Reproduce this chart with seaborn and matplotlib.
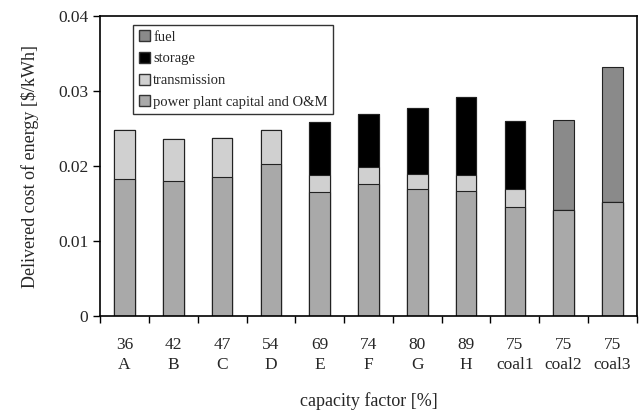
import matplotlib
matplotlib.use("Agg")
import matplotlib.pyplot as plt
import seaborn as sns
import pandas as pd
import numpy as np
from matplotlib.patches import Patch
from matplotlib.ticker import FixedLocator

sns.set_style("ticks")
plt.rcParams['font.family'] = ['Liberation Serif', 'DejaVu Serif']

categories = ["A", "B", "C", "D", "E", "F", "G", "H", "coal1", "coal2", "coal3"]
capacity = ["36", "42", "47", "54", "69", "74", "80", "89", "75", "75", "75"]
plant = [0.0183, 0.0180, 0.0185, 0.0203, 0.0165, 0.0176, 0.0169, 0.0167, 0.0146, 0.0141, 0.0152]
transmission = [0.0065, 0.0056, 0.0052, 0.0045, 0.0023, 0.0023, 0.0021, 0.0021, 0.0024, 0.0, 0.0]
storage = [0.0, 0.0, 0.0, 0.0, 0.0071, 0.0070, 0.0088, 0.0104, 0.0090, 0.0, 0.0]
fuel = [0.0, 0.0, 0.0, 0.0, 0.0, 0.0, 0.0, 0.0, 0.0, 0.0120, 0.0180]

c_plant = "#a9a9a9"
c_trans = "#d0d0d0"
c_storage = "#000000"
c_fuel = "#8a8a8a"

df = pd.DataFrame({"cat": categories, "plant": plant, "trans": transmission,
                   "storage": storage, "fuel": fuel})
df["l1"] = df["plant"]
df["l2"] = df["l1"] + df["trans"]
df["l3"] = df["l2"] + df["storage"]
df["l4"] = df["l3"] + df["fuel"]

fig = plt.figure(figsize=(6.42, 4.12), dpi=100)
ax = fig.add_axes([0.156, 0.233, 0.836, 0.728])

layers = [("l4", c_fuel), ("l3", c_storage), ("l2", c_trans), ("l1", c_plant)]
for col, color in layers:
    sns.barplot(data=df, x="cat", y=col, color=color, width=0.42,
                edgecolor="#222222", linewidth=0.8, ax=ax, saturation=1)

ax.set_xlim(-0.5, len(categories) - 0.5)
ax.set_ylim(0, 0.04)
ax.set_yticks([0, 0.01, 0.02, 0.03, 0.04])
ax.set_yticklabels(["0", "0.01", "0.02", "0.03", "0.04"], fontsize=12.5)
ax.set_xticks(range(len(categories)))
ax.set_xticklabels([f"{c}\n{k}" for c, k in zip(capacity, categories)], fontsize=12.5,
                   linespacing=1.35)
ax.tick_params(axis="x", which="major", length=0, pad=15)
ax.xaxis.set_minor_locator(FixedLocator(np.arange(-0.5, len(categories), 1.0)))
ax.tick_params(axis="x", which="minor", length=5, width=1, direction="out", color="black")
ax.tick_params(axis="y", length=5, width=1, direction="out", color="black")

for s in ax.spines.values():
    s.set_visible(True)
    s.set_color("black")
    s.set_linewidth(1.2)

ax.set_xlabel("capacity factor [%]", fontsize=13, labelpad=14)
ax.set_ylabel("Delivered cost of energy [$/kWh]", fontsize=13, labelpad=14)

handles = [Patch(facecolor=c_fuel, edgecolor="#333333", label="fuel"),
           Patch(facecolor=c_storage, edgecolor="#333333", label="storage"),
           Patch(facecolor=c_trans, edgecolor="#333333", label="transmission"),
           Patch(facecolor=c_plant, edgecolor="#333333", label="power plant capital and O&M")]
leg = ax.legend(handles=handles, loc="upper left", bbox_to_anchor=(0.062, 0.97),
                fontsize=10.5, frameon=True, fancybox=False, edgecolor="black",
                handlelength=0.8, handleheight=0.8, handletextpad=0.2,
                borderpad=0.35, labelspacing=0.55, borderaxespad=0)
leg.get_frame().set_linewidth(1.0)

fig.savefig("out.png", dpi=100)
